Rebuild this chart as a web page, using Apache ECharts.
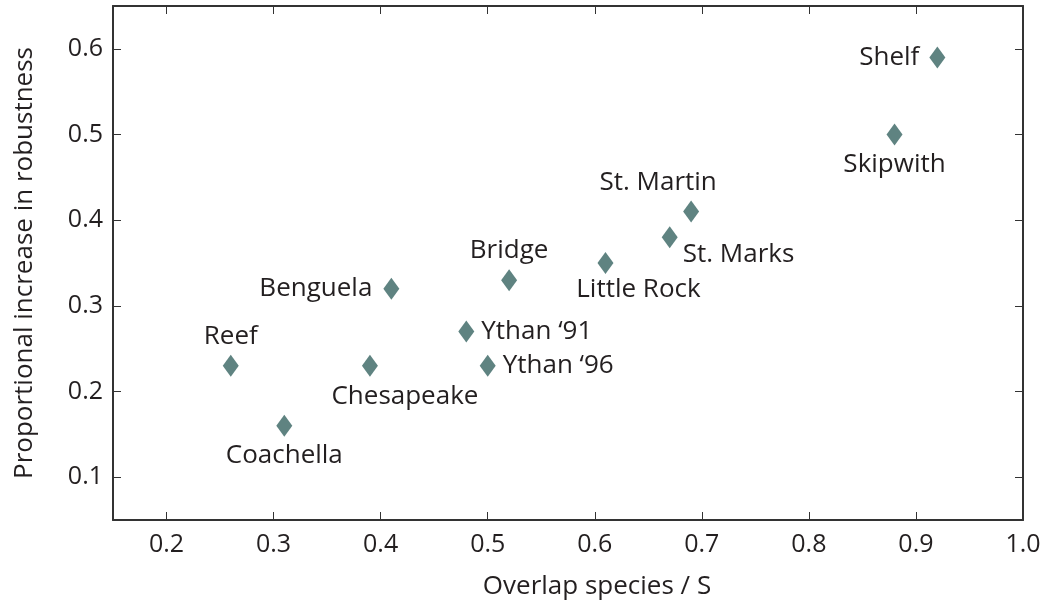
<!DOCTYPE html>
<html>
<head>
<meta charset="utf-8">
<script src="https://cdn.jsdelivr.net/npm/echarts@6/dist/echarts.min.js"></script>
<style>
html,body{margin:0;padding:0;background:#fff;}
#c{width:1051px;height:610px;}
</style>
</head>
<body>
<div id="c"></div>
<script>
// ---- data ----
const names = ["Shelf","Skipwith","St. Martin","St. Marks","Little Rock","Bridge","Benguela","Ythan \u201891","Ythan \u201896","Reef","Chesapeake","Coachella"];
const xValues = [0.92, 0.88, 0.69, 0.67, 0.61, 0.52, 0.41, 0.48, 0.50, 0.26, 0.39, 0.31];
const yValues = [0.59, 0.50, 0.41, 0.38, 0.35, 0.33, 0.32, 0.27, 0.23, 0.23, 0.23, 0.16];
const xTicks = [0.2, 0.3, 0.4, 0.5, 0.6, 0.7, 0.8, 0.9, 1.0];
const yTicks = [0.1, 0.2, 0.3, 0.4, 0.5, 0.6];
const xTitle = "Overlap species / S";
const yTitle = "Proportional increase in robustness";

// label placement (style, not data)
const labelPlace = {
  "Shelf": {position: "left", distance: 10},
  "Skipwith": {position: "bottom", distance: 6},
  "St. Martin": {position: "top", distance: 5, dx: -33},
  "St. Marks": {position: "right", distance: 5, dy: 17},
  "Little Rock": {position: "bottom", distance: 3, dx: 33},
  "Bridge": {position: "top", distance: 6},
  "Benguela": {position: "left", distance: 11},
  "Ythan \u201891": {position: "right", distance: 7},
  "Ythan \u201896": {position: "right", distance: 7},
  "Reef": {position: "top", distance: 5},
  "Chesapeake": {position: "bottom", distance: 7, dx: 35},
  "Coachella": {position: "bottom", distance: 6}
};

const FONT = "'Open Sans', sans-serif";
const FS = 26;
const TXT = "#231f20";
const AX = "#333333";

const points = names.map((n, i) => {
  const p = labelPlace[n];
  return {
    name: n,
    value: [xValues[i], yValues[i]],
    label: {show: true, formatter: n, position: p.position, distance: p.distance}
  };
});

function mkX(pos, showLabel) {
  return {
    type: "value", position: pos, min: 0.15, max: 1.0,
    splitLine: {show: false},
    axisLine: {show: true, onZero: false, lineStyle: {color: AX, width: 2}},
    axisTick: {show: true, inside: true, length: 8, customValues: xTicks, lineStyle: {color: AX, width: 1}},
    axisLabel: {show: showLabel, customValues: xTicks, formatter: v => v.toFixed(1), fontFamily: FONT, fontSize: 25, color: TXT, margin: 12},
    name: showLabel ? xTitle : "",
    nameLocation: "middle", nameGap: 54,
    nameTextStyle: {fontFamily: FONT, fontSize: FS, color: TXT, padding: [0, 0, 0, 58]}
  };
}
function mkY(pos, showLabel) {
  return {
    type: "value", position: pos, min: 0.05, max: 0.65,
    splitLine: {show: false},
    axisLine: {show: true, onZero: false, lineStyle: {color: AX, width: 2}},
    axisTick: {show: true, inside: true, length: 8, customValues: yTicks, lineStyle: {color: AX, width: 1}},
    axisLabel: {show: showLabel, customValues: yTicks, formatter: v => v.toFixed(1), fontFamily: FONT, fontSize: 25, color: TXT, margin: 10},
    name: showLabel ? yTitle : "",
    nameLocation: "middle", nameGap: 75,
    nameTextStyle: {fontFamily: FONT, fontSize: FS, color: TXT}
  };
}

const chart = echarts.init(document.getElementById("c"), null, {renderer: "canvas"});
chart.setOption({
  animation: false,
  backgroundColor: "#ffffff",
  grid: {left: 113, right: 28, top: 6, bottom: 90, containLabel: false},
  xAxis: [mkX("bottom", true), mkX("top", false)],
  yAxis: [mkY("left", true), mkY("right", false)],
  series: [{
    type: "scatter",
    xAxisIndex: 0, yAxisIndex: 0,
    symbol: "diamond",
    symbolSize: [16, 22],
    itemStyle: {color: "#5f8381", opacity: 1},
    label: {show: true, fontFamily: FONT, fontSize: FS, color: TXT},
    labelLayout: function (params) {
      const p = labelPlace[names[params.dataIndex]];
      return {dx: p.dx || 0, dy: p.dy || 0, hideOverlap: false};
    },
    data: points
  }]
});
</script>
</body>
</html>
